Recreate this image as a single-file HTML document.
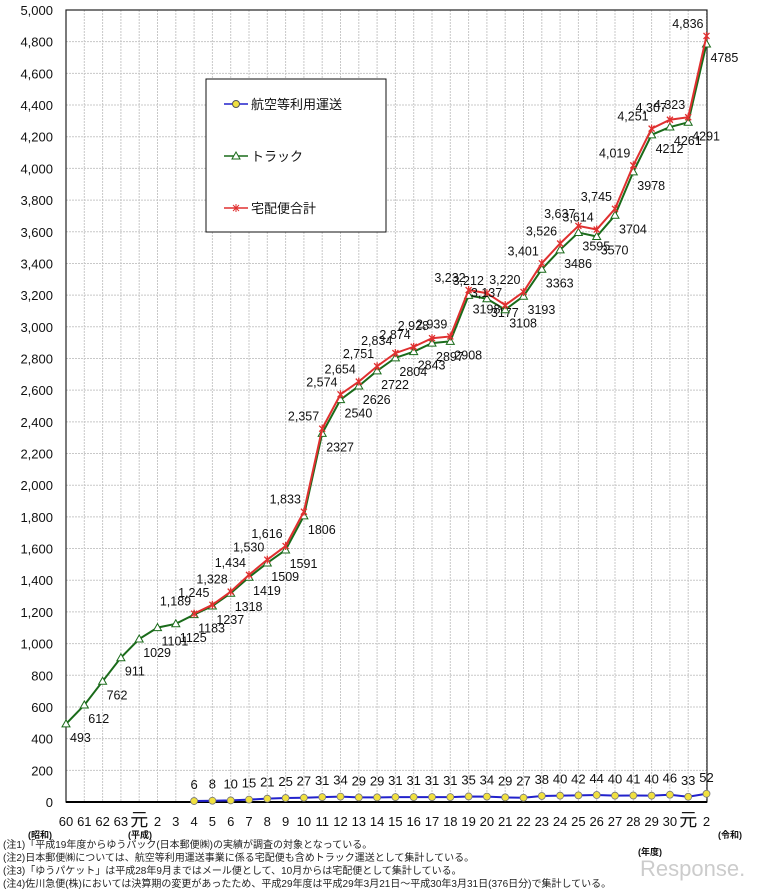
<!DOCTYPE html>
<html><head><meta charset="utf-8">
<style>
body{margin:0;background:#fff;}
svg{display:block;font-family:"Liberation Sans","Noto Sans CJK JP",sans-serif;}
</style></head>
<body>
<svg id="chart" width="760" height="896"></svg>
<script>
const categories=["60","61","62","63","元","2","3","4","5","6","7","8","9","10","11","12","13","14","15","16","17","18","19","20","21","22","23","24","25","26","27","28","29","30","元","2"];
const truckValues=[493,612,762,911,1029,1101,1125,1183,1237,1318,1419,1509,1591,1806,2327,2540,2626,2722,2804,2843,2897,2908,3198,3177,3108,3193,3363,3486,3595,3570,3704,3978,4212,4261,4291,4785];
const totalValues=[null,null,null,null,null,null,null,1189,1245,1328,1434,1530,1616,1833,2357,2574,2654,2751,2834,2874,2928,2939,3232,3212,3137,3220,3401,3526,3637,3614,3745,4019,4251,4307,4323,4836];
const airValues=[null,null,null,null,null,null,null,6,8,10,15,21,25,27,31,34,29,29,31,31,31,31,35,34,29,27,38,40,42,44,40,41,40,46,33,52];
const yTicks=[0,200,400,600,800,1000,1200,1400,1600,1800,2000,2200,2400,2600,2800,3000,3200,3400,3600,3800,4000,4200,4400,4600,4800,5000];

const NS="http://www.w3.org/2000/svg";
const svg=document.getElementById('chart');
const X0=66,XS=18.3,Y0=802,YT=10,YMAX=5000,XR=707;
const xp=i=>X0+i*XS;
const yp=v=>Y0-(v/YMAX)*(Y0-YT);
function mk(tag,attrs,parent){const e=document.createElementNS(NS,tag);for(const k in attrs)e.setAttribute(k,attrs[k]);(parent||svg).appendChild(e);return e;}
const fmt=v=>v.toLocaleString('en-US');

const grid=mk('g',{});


yTicks.forEach(t=>{
  mk('line',{x1:X0,x2:XR,y1:yp(t),y2:yp(t),stroke:'#c8c8c8','stroke-dasharray':'2,1','stroke-width':1},grid);
  const lb=mk('text',{x:53,y:yp(t)+5,'text-anchor':'end','font-size':13,fill:'#111'});
  lb.textContent=fmt(t);
  
  
});
categories.forEach((c,i)=>{
  if(i>0) mk('line',{x1:xp(i),x2:xp(i),y1:YT,y2:Y0,stroke:'#c8c8c8','stroke-dasharray':'2,1','stroke-width':1},grid);
  const lb=mk('text',{x:xp(i),y:826,'text-anchor':'middle','font-size':c==='元'?18:13,fill:'#111'});
  lb.textContent=c;
  
  
});
mk('rect',{x:X0,y:YT,width:XR-X0,height:Y0-YT,fill:'none',stroke:'#222','stroke-width':1.2});
mk('line',{x1:X0,x2:XR,y1:Y0,y2:Y0,stroke:'#000','stroke-width':2});

function series(vals,color,name){
  const g=mk('g',{});
  
  
  let d='';vals.forEach((v,i)=>{if(v==null)return;d+=(d?'L':'M')+xp(i)+','+yp(v);});
  mk('path',{d:d,fill:'none',stroke:color,'stroke-width':2},g);
  return g;
}
const gt=series(truckValues,'#1a6b1a','truck-series');
truckValues.forEach((v,i)=>{
  const x=xp(i),y=yp(v);
  const m=mk('path',{d:`M${x},${y-4}L${x+4},${y+3}L${x-4},${y+3}Z`,fill:'#fff',stroke:'#1a6b1a','stroke-width':1},gt);
  
  
  const t=mk('text',{x:x+4,y:y+18,'font-size':12.5,fill:'#111'},gt);
  t.textContent=v;
  
  
});
const gr=series(totalValues,'#e03030','total-series');
totalValues.forEach((v,i)=>{
  if(v==null)return;
  const x=xp(i),y=yp(v);
  const m=mk('path',{d:`M${x-3},${y-3}L${x+3},${y+3}M${x+3},${y-3}L${x-3},${y+3}M${x},${y-4}L${x},${y+4}`,stroke:'#e03030','stroke-width':1.3},gr);
  
  
  const t=mk('text',{x:x-3,y:y-8,'text-anchor':'end','font-size':12.5,fill:'#111'},gr);
  t.textContent=fmt(v);
  
  
});
const ga=series(airValues,'#2222cc','air-series');
airValues.forEach((v,i)=>{
  if(v==null)return;
  const x=xp(i),y=yp(v);
  const m=mk('circle',{cx:x,cy:y,r:3.5,fill:'#f0e040',stroke:'#777','stroke-width':0.8},ga);
  
  
  const t=mk('text',{x:x,y:y-12,'text-anchor':'middle','font-size':13,fill:'#111'},ga);
  t.textContent=v;
  
  
});

const lg=mk('g',{});


mk('rect',{x:206,y:79,width:180,height:153,fill:'#fff',stroke:'#111','stroke-width':1},lg);
const leg=[['航空等利用運送','#2222cc','c',104],['トラック','#1a6b1a','t',156],['宅配便合計','#e03030','x',208]];
leg.forEach(l=>{
  const e=mk('g',{},lg);
  
  
  mk('line',{x1:224,x2:248,y1:l[3],y2:l[3],stroke:l[1],'stroke-width':1.5},e);
  if(l[2]==='c')mk('circle',{cx:236,cy:l[3],r:3.5,fill:'#f0e040',stroke:'#555'},e);
  if(l[2]==='t')mk('path',{d:`M236,${l[3]-4}L240,${l[3]+3}L232,${l[3]+3}Z`,fill:'#fff',stroke:l[1]},e);
  if(l[2]==='x')mk('path',{d:`M233,${l[3]-3}L239,${l[3]+3}M239,${l[3]-3}L233,${l[3]+3}M236,${l[3]-4}L236,${l[3]+4}`,stroke:l[1]},e);
  const t=mk('text',{x:251,y:l[3]+5,'font-size':13,fill:'#111'},e);t.textContent=l[0];
});

[[40,838,'(昭和)'],[140,838,'(平成)'],[730,838,'(令和)'],[650,855,'(年度)']].forEach(a=>{
  const t=mk('text',{x:a[0],y:a[1],'text-anchor':'middle','font-size':9,'font-weight':'bold',fill:'#111'});
  t.textContent=a[2];
  
  
});
const notes=['(注1)「平成19年度からゆうパック(日本郵便㈱)の実績が調査の対象となっている。','(注2)日本郵便㈱については、航空等利用運送事業に係る宅配便も含めトラック運送として集計している。','(注3)「ゆうパケット」は平成28年9月まではメール便として、10月からは宅配便として集計している。','(注4)佐川急便(株)においては決算期の変更があったため、平成29年度は平成29年3月21日～平成30年3月31日(376日分)で集計している。'];
notes.forEach((n,i)=>{
  const t=mk('text',{x:3,y:848+i*13,'font-size':10,fill:'#222'});
  t.textContent=n;
  
  
});
const wm=mk('text',{x:640,y:876,'font-size':22,fill:'#ccc'});
wm.textContent='Response.';


</script>
</body></html>
